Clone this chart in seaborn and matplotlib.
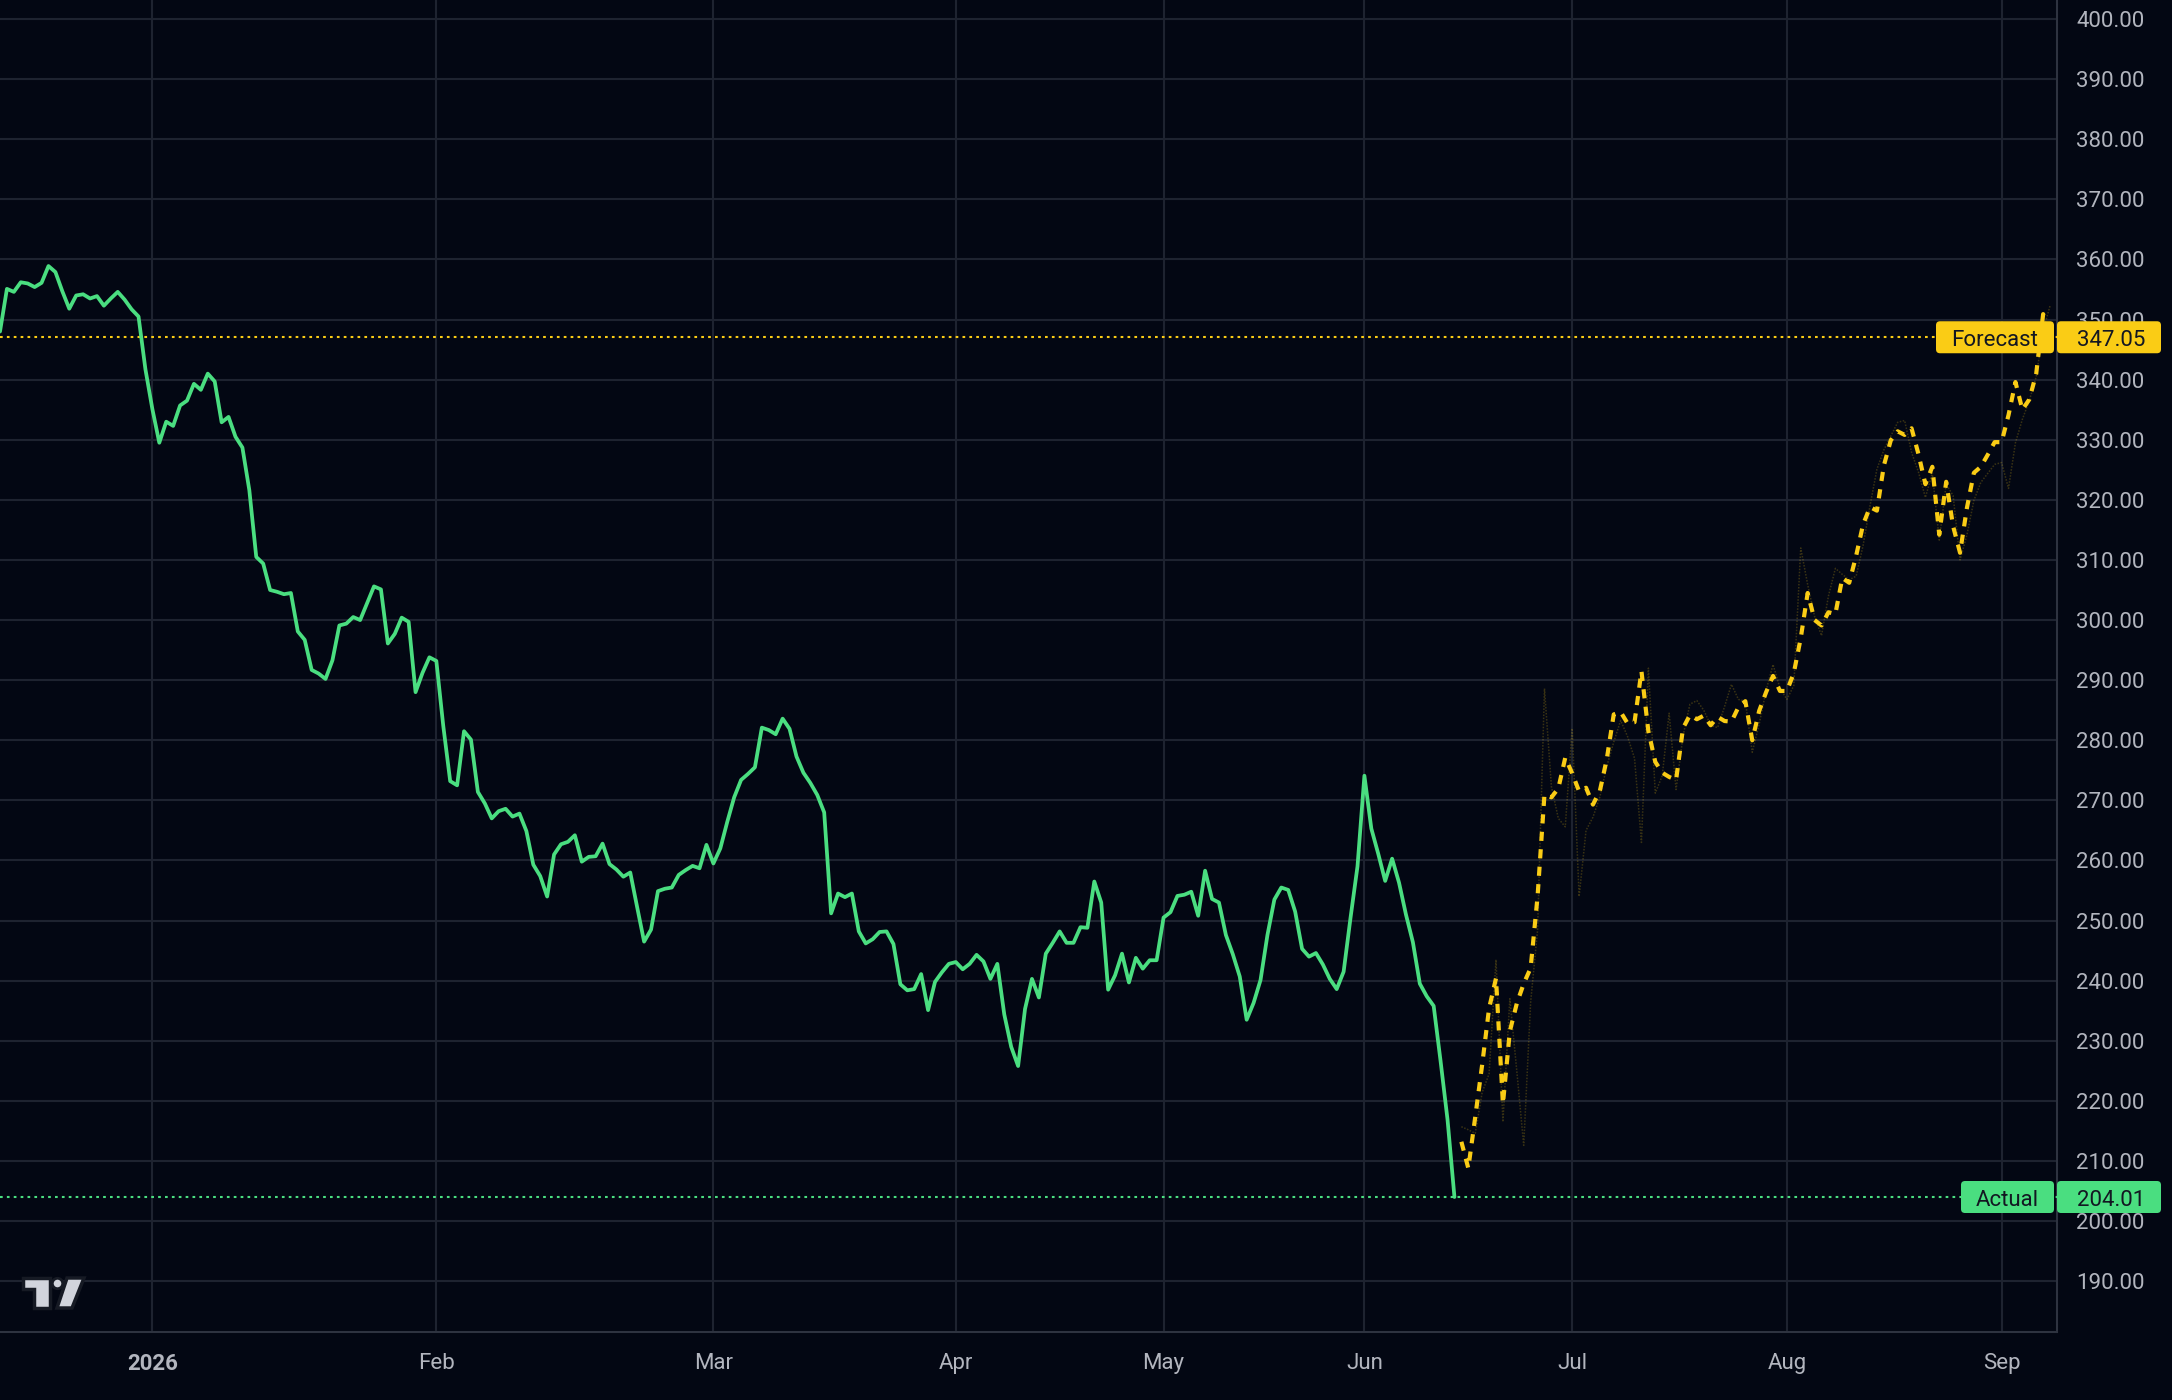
import numpy as np
import pandas as pd
import matplotlib
matplotlib.use("Agg")
import matplotlib.pyplot as plt
import seaborn as sns
from matplotlib.patches import FancyBboxPatch, Polygon, Circle

# ---------------- data ----------------
actual_values = [
    348.0, 355.1, 354.6, 356.2, 356.0, 355.4, 356.1, 358.9, 357.9, 354.7,
    351.8, 354.0, 354.2, 353.5, 353.9, 352.3, 353.5, 354.6, 353.3, 351.7,
    350.5, 341.7, 335.1, 329.5, 333.0, 332.3, 335.7, 336.5, 339.3, 338.3,
    341.0, 339.7, 332.9, 333.8, 330.5, 328.7, 321.6, 310.5, 309.4, 305.0,
    304.7, 304.3, 304.5, 298.1, 296.7, 291.7, 291.1, 290.2, 293.3, 299.1,
    299.4, 300.5, 300.0, 302.8, 305.6, 305.1, 296.1, 297.7, 300.4, 299.7,
    288.0, 291.2, 293.8, 293.2, 282.4, 273.2, 272.5, 281.5, 280.1, 271.4,
    269.5, 267.0, 268.2, 268.6, 267.3, 267.8, 264.9, 259.3, 257.4, 254.0,
    261.0, 262.7, 263.1, 264.2, 259.8, 260.6, 260.7, 262.8, 259.4, 258.5,
    257.3, 258.0, 252.2, 246.5, 248.5, 254.9, 255.3, 255.5, 257.6, 258.4,
    259.1, 258.7, 262.6, 259.5, 262.0, 266.4, 270.5, 273.4, 274.4, 275.5,
    282.1, 281.7, 281.0, 283.6, 281.9, 277.3, 274.6, 272.9, 270.9, 268.0,
    251.2, 254.5, 253.9, 254.5, 248.2, 246.2, 246.9, 248.1, 248.2, 246.1,
    239.4, 238.4, 238.6, 241.1, 235.1, 239.8, 241.4, 242.8, 243.1, 241.9,
    242.8, 244.3, 243.2, 240.3, 242.8, 234.4, 229.0, 225.8, 235.3, 240.3,
    237.2, 244.5, 246.3, 248.2, 246.3, 246.3, 248.9, 248.8, 256.5, 253.0,
    238.5, 240.9, 244.5, 239.7, 243.8, 242.0, 243.4, 243.4, 250.5, 251.4,
    254.1, 254.3, 254.8, 250.8, 258.3, 253.6, 253.0, 247.6, 244.4, 240.7,
    233.5, 236.3, 240.1, 247.6, 253.5, 255.5, 255.1, 251.5, 245.3, 244.0,
    244.6, 242.7, 240.3, 238.6, 241.5, 250.5, 259.0, 274.1, 265.3, 261.1,
    256.6, 260.3, 256.3, 251.0, 246.4, 239.5, 237.4, 235.8, 226.6, 216.9,
    204.01,
]

forecast_values = [
    213.2, 208.8, 217.3, 226.0, 235.4, 240.4, 219.5, 231.6, 236.2, 239.5,
    242.1, 254.0, 271.0, 270.5, 272.0, 277.1, 274.5, 271.5, 272.1, 269.3,
    271.6, 276.9, 284.3, 284.7, 282.8, 283.0, 291.5, 281.5, 276.4, 274.6,
    273.9, 273.4, 282.0, 284.2, 283.5, 284.1, 282.5, 283.9, 283.2, 283.1,
    285.5, 286.5, 280.0, 284.9, 288.0, 290.7, 288.2, 288.2, 291.2, 297.0,
    304.5, 300.0, 299.1, 301.3, 301.0, 307.0, 306.2, 310.7, 315.9, 318.8,
    318.2, 325.7, 329.9, 331.4, 330.8, 331.9, 327.6, 322.6, 325.5, 314.2,
    323.0, 315.6, 311.2, 318.7, 324.5, 325.5, 327.5, 329.6, 329.6, 334.1,
    339.6, 335.0, 336.7, 341.0, 350.9, 347.05,
]

forecast_alt = [
    215.7, 215.2, 214.6, 221.4, 224.5, 243.5, 216.5, 237.0, 225.0, 212.6,
    236.4, 248.4, 288.6, 272.3, 267.0, 265.6, 282.0, 254.0, 265.0, 267.2,
    270.6, 275.7, 279.7, 283.3, 280.6, 277.0, 263.0, 292.0, 271.2, 274.1,
    284.5, 271.8, 280.7, 286.0, 286.6, 285.0, 282.5, 282.1, 285.6, 289.3,
    286.8, 286.5, 278.0, 282.7, 288.3, 292.6, 288.7, 286.8, 289.1, 312.0,
    305.9, 300.6, 297.4, 304.0, 308.6, 307.6, 306.7, 307.3, 312.4, 319.0,
    325.1, 328.3, 330.6, 332.9, 333.2, 327.9, 324.6, 320.4, 324.5, 313.3,
    322.6, 320.7, 310.0, 314.2, 319.9, 322.9, 324.4, 325.9, 326.2, 321.9,
    329.5, 333.4, 336.5, 340.5, 348.2, 352.3,
]

month_labels = ["2026", "Feb", "Mar", "Apr", "May", "Jun", "Jul", "Aug", "Sep"]
month_start_bar = [22, 63, 103, 138, 168, 197, 227, 258, 289]
price_ticks = list(range(190, 401, 10))
last_actual = 204.01
last_forecast = 347.05

# ---------------- style ----------------
W, H = 2172, 1400
BG = "#030713"
GRID = "#1e2330"
SPINE = "#2e3340"
TXT = "#b2b5be"
GREEN = "#4ade80"
YELLOW = "#facc15"
DARK = "#131722"

sns.set_style("dark", rc={"axes.facecolor": BG, "figure.facecolor": BG})
plt.rcParams["font.family"] = ["Roboto", "DejaVu Sans"]

fig = plt.figure(figsize=(W / 100, H / 100), dpi=100, facecolor=BG)
ax = fig.add_axes([0, 68 / H, 2057 / W, 1 - 68 / H])
ax.set_facecolor(BG)

n_act = len(actual_values)
actual_df = pd.DataFrame({"bar": np.arange(n_act), "price": actual_values})
forecast_df = pd.DataFrame({"bar": np.arange(len(forecast_values)) + n_act,
                            "price": forecast_values,
                            "alt": forecast_alt})

sns.lineplot(data=forecast_df, x="bar", y="alt", ax=ax, color=YELLOW,
             alpha=0.22, linewidth=1.1, linestyle=(0, (1, 1)), zorder=3)
sns.lineplot(data=actual_df, x="bar", y="price", ax=ax, color=GREEN,
             linewidth=2.7, zorder=4)
sns.lineplot(data=forecast_df, x="bar", y="price", ax=ax, color=YELLOW,
             linewidth=3.0, linestyle=(0, (2.2, 2.0)), dash_capstyle="butt", zorder=5)

ax.axhline(last_forecast, color=YELLOW, lw=1.5, linestyle=(0, (1.3, 2.0)), zorder=3)
ax.axhline(last_actual, color=GREEN, lw=1.5, linestyle=(0, (1.3, 2.0)), zorder=3)

ax.set_xlim(0, 297)
ax.set_ylim(181.55, 403.16)
ax.set_xticks(month_start_bar)
ax.set_xticklabels(month_labels)
ax.get_xticklabels()[0].set_fontweight("bold")
ax.yaxis.tick_right()
ax.set_yticks(price_ticks)
ax.set_yticklabels([f"{v:.2f}" for v in price_ticks])
ax.set_xlabel("")
ax.set_ylabel("")
ax.grid(True, color=GRID, lw=1.5)
ax.set_axisbelow(True)
ax.tick_params(axis="x", length=0, pad=15, labelsize=16, colors=TXT)
ax.tick_params(axis="y", length=0, pad=14, labelsize=16, colors=TXT)
for s in ["top", "left"]:
    ax.spines[s].set_visible(False)
for s in ["right", "bottom"]:
    ax.spines[s].set_visible(True)
    ax.spines[s].set_color(SPINE)
    ax.spines[s].set_linewidth(1.5)

# ---------------- overlay: price tags and logo ----------------
ov = fig.add_axes([0, 0, 1, 1], zorder=20)
ov.set_xlim(0, W)
ov.set_ylim(H, 0)
ov.axis("off")
ov.patch.set_alpha(0)


def y_px(v):
    return H - ax.transData.transform((0, v))[1]


def price_tag(v, name, color, name_left):
    yc = y_px(v)
    h = 32
    ov.add_patch(FancyBboxPatch((name_left, yc - h / 2), 2054 - name_left, h,
                                boxstyle="round,pad=0,rounding_size=4",
                                fc=color, ec="none"))
    ov.text((name_left + 2054) / 2, yc + 1, name, ha="center",
            va="center_baseline", fontsize=16, color=DARK)
    ov.add_patch(FancyBboxPatch((2057, yc - h / 2), 104, h,
                                boxstyle="round,pad=0,rounding_size=4",
                                fc=color, ec="none"))
    ov.text(2111, yc + 1, f"{v:.2f}", ha="center", va="center_baseline",
            fontsize=16, color=DARK)


price_tag(last_forecast, "Forecast", YELLOW, 1936)
price_tag(last_actual, "Actual", GREEN, 1961)

LOGO = "#d1d4dc"
LOGO_EDGE = "#161a24"
ov.add_patch(Polygon([(23, 1278), (50, 1278), (50, 1308), (34, 1308), (34, 1289), (23, 1289)],
                     closed=True, fc=LOGO, ec=LOGO_EDGE, lw=2.5, joinstyle="miter"))
ov.add_patch(Circle((57.5, 1283.5), 5.2, fc=LOGO, ec=LOGO_EDGE, lw=2.0))
ov.add_patch(Polygon([(67, 1278), (84, 1278), (72, 1308), (57, 1308)],
                     closed=True, fc=LOGO, ec=LOGO_EDGE, lw=2.5, joinstyle="miter"))

fig.savefig("out.png", dpi=100, facecolor=BG)
